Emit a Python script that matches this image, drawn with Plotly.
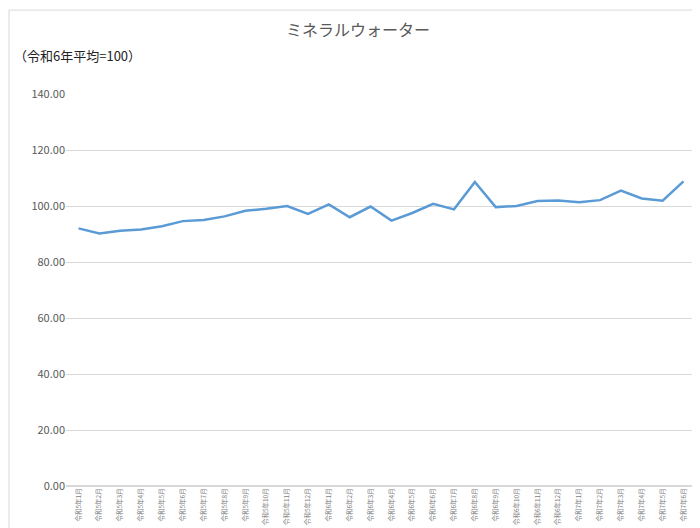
import plotly.graph_objects as go

# 月ラベル
months = [f"令和5年{m}月" for m in range(1, 13)] + \
         [f"令和6年{m}月" for m in range(1, 13)] + \
         [f"令和7年{m}月" for m in range(1, 7)]

# 指数（令和6年平均=100）
index_values = [92.0, 90.2, 91.2, 91.6, 92.8, 94.6, 95.0, 96.3, 98.3, 99.0,
                100.0, 97.2, 100.6, 96.0, 99.8, 94.8, 97.5, 100.8, 98.8, 108.6,
                99.6, 100.0, 101.8, 102.0, 101.3, 102.1, 105.5, 102.7, 101.9, 108.8]

font_family = "Noto Sans CJK JP"

fig = go.Figure()
fig.add_trace(go.Scatter(x=months, y=index_values, mode="lines",
                         line=dict(color="#5b9bd5", width=2.5)))

fig.update_layout(
    width=700, height=528,
    margin=dict(l=58, r=12, t=86, b=50),
    paper_bgcolor="white", plot_bgcolor="white",
    font=dict(family=font_family, color="#595959"),
    showlegend=False,
    title=dict(text="ミネラルウォーター", x=0.5, y=0.958, xanchor="center",
               yanchor="middle", font=dict(size=16, color="#595959")),
    xaxis=dict(tickangle=-90, tickfont=dict(size=6.5, color="#808080"),
               showgrid=False, showline=False, ticks="", automargin=False,
               range=[-0.6, len(months) - 0.4]),
    yaxis=dict(range=[0, 140], dtick=20, tickformat=".2f", automargin=False,
               tickfont=dict(size=11, color="#595959"),
               gridcolor="#d9d9d9", zeroline=True, zerolinecolor="#d9d9d9",
               showline=False, ticks=""),
    annotations=[dict(text="（令和6年平均=100）", x=-0.085, y=1.097,
                      xref="paper", yref="paper", xanchor="left", yanchor="middle",
                      showarrow=False, font=dict(size=13, color="#222222"))],
    shapes=[dict(type="rect", xref="paper", yref="paper",
                 x0=-0.0905, y0=-0.122, x1=1.016, y1=1.214,
                 line=dict(color="#d9d9d9", width=1))],
)

fig.write_html("out.html")
